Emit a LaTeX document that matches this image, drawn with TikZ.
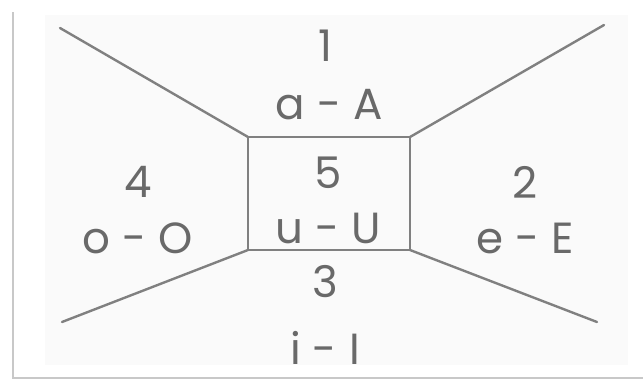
\documentclass[tikz,border=0pt]{standalone}
\usepackage{fontspec}
\setmainfont{Poppins}
\usepackage{xcolor}
\usepackage{tikz}
\usetikzlibrary{
  positioning,
  calc,
}

\definecolor{linegray}{RGB}{128,128,128}
\definecolor{textgray}{RGB}{105,105,105}
\definecolor{framegray}{RGB}{200,200,200}
\definecolor{panelgray}{RGB}{250,250,250}

\begin{document}
\begin{tikzpicture}[
  x=0.025cm, y=-0.025cm,
  every node/.style={align=center, text=textgray, inner sep=0pt, font=\fontsize{31}{36}\selectfont},
  zone/.style={draw=linegray, line width=1.7pt, line cap=round},
]
\useasboundingbox (0,0) rectangle (643,382);

% frame and panel
\fill[panelgray] (45,15) rectangle (628,365);
\draw[framegray, line width=1.6pt] (13,12) -- (13,378) -- (643,378);

% corners of the centre square and the far ends
\coordinate (nw) at (248,137);
\coordinate (ne) at (410,137);
\coordinate (se) at (410,250);
\coordinate (sw) at (248,250);
\coordinate (fnw) at (60,28);
\coordinate (fne) at (604,25);
\coordinate (fse) at (597,322);
\coordinate (fsw) at (62,322);

\draw[zone] (nw) rectangle (se);
\draw[zone] (fnw) -- (nw);
\draw[zone] (fne) -- (ne);
\draw[zone] (fse) -- (se);
\draw[zone] (fsw) -- (sw);

% labels
\node (n1) at (325,46) {1};
\node (t1) at (329,105) {a\;-\;A};
\node (n5) at (328,173) {5};
\node (t5) at (328,228) {u\;-\;U};
\node (n4) at (138,182) {4};
\node (t4) at (138,238) {o\;-\;O};
\node (n2) at (525,182) {2};
\node (t2) at (525,238) {e\;-\;E};
\node (n3) at (325,282) {3};
\node (t3) at (325,348) {i\;-\;I};

\end{tikzpicture}
\end{document}
